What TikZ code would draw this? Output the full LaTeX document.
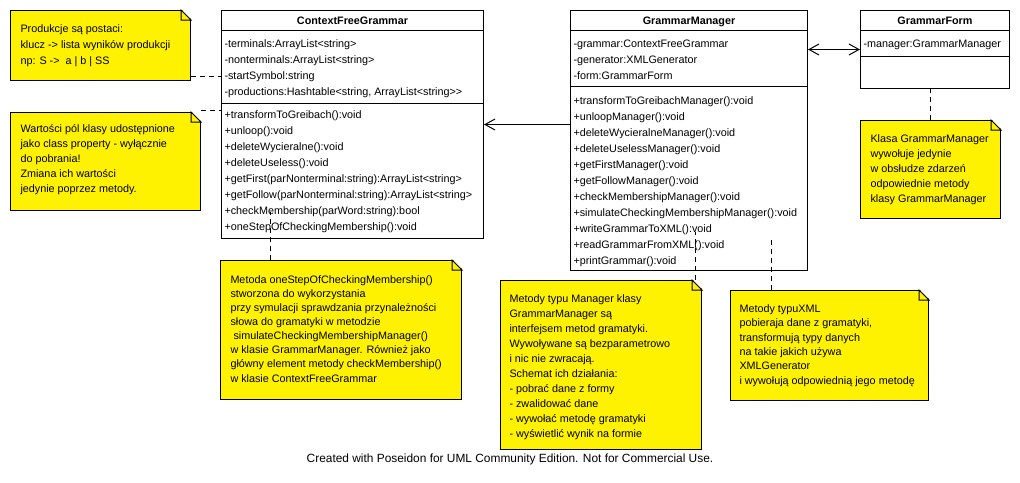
\documentclass[tikz,border=0pt]{standalone}
\usepackage{fontspec}
\setmainfont{Liberation Sans}
\usepackage{tikz}
\usetikzlibrary{arrows.meta}
\newcommand{\umlfont}{\fontsize{10.8}{16}\selectfont}
% folded corner of a note
\newcommand{\notecorner}[1]{%
	\fill[white] ([shift={(-10pt,1pt)}]#1.north east) -- ([shift={(1pt,1pt)}]#1.north east)
		-- ([shift={(1pt,-10pt)}]#1.north east) -- cycle;
	\draw ([xshift=-10pt]#1.north east) |- ([yshift=-10pt]#1.north east) -- cycle;
}
\tikzset{
	umlclass/.style = {rectangle, draw, fill=white, anchor=north west, inner sep=0pt},
	clstitle/.style = {font=\umlfont\bfseries, anchor=base, inner sep=0pt},
	member/.style = {font=\umlfont, align=left, anchor=north west, inner sep=0pt},
	umlnote/.style = {rectangle, draw, fill=yellow, anchor=north west, inner sep=0pt},
	notetext/.style = {align=left, anchor=north west, inner sep=0pt},
	notelink/.style = {dash pattern=on 5pt off 4pt},
	assoc/.style = {->}
}
\begin{document}
\begin{tikzpicture}[x=1pt, y=-1pt, line width=1pt,
	>={Straight Barb[length=10pt,width=11pt]}]
\fill[white] (0,0) rectangle (1020,482);
\useasboundingbox (0,0) rectangle (1020,482);

% classes
\node [umlclass, minimum width=262pt, minimum height=228pt] (cfg) at (221,10) {};
\node [clstitle] (cfg-title) at ([yshift=-14pt]cfg.north) {ContextFreeGrammar};
\draw ([yshift=-20pt]cfg.north west) -- ([yshift=-20pt]cfg.north east);
\draw ([yshift=-93pt]cfg.north west) -- ([yshift=-93pt]cfg.north east);
\node [member] (cfg-attr) at (224,39) {-terminals:ArrayList<string>\\
	-nonterminals:ArrayList<string>\\ -startSymbol:string\\
	-productions:Hashtable<string, ArrayList<string>{}>};
\node [member] (cfg-ops) at (224,110) {+transformToGreibach():void\\ +unloop():void\\
	+deleteWycieralne():void\\ +deleteUseless():void\\
	+getFirst(parNonterminal:string):ArrayList<string>\\
	+getFollow(parNonterminal:string):ArrayList<string>\\
	+checkMembership(parWord:string):bool\\ +oneStepOfCheckingMembership():void};

\node [umlclass, minimum width=237pt, minimum height=260pt] (gm) at (570,10) {};
\node [clstitle] (gm-title) at ([yshift=-14pt]gm.north) {GrammarManager};
\draw ([yshift=-20pt]gm.north west) -- ([yshift=-20pt]gm.north east);
\draw ([yshift=-76pt]gm.north west) -- ([yshift=-76pt]gm.north east);
\node [member] (gm-attr) at (573,39) {-grammar:ContextFreeGrammar\\
	-generator:XMLGenerator\\ -form:GrammarForm};
\node [member] (gm-ops) at (573,96) {+transformToGreibachManager():void\\
	+unloopManager():void\\ +deleteWycieralneManager():void\\
	+deleteUselessManager():void\\ +getFirstManager():void\\
	+getFollowManager():void\\ +checkMembershipManager():void\\
	+simulateCheckingMembershipManager():void\\ +writeGrammarToXML():void\\
	+readGrammarFromXML():void\\ +printGrammar():void};

\node [umlclass, minimum width=149pt, minimum height=78pt] (gf) at (860,10) {};
\node [clstitle] (gf-title) at ([yshift=-14pt]gf.north) {GrammarForm};
\draw ([yshift=-20pt]gf.north west) -- ([yshift=-20pt]gf.north east);
\draw ([yshift=-46pt]gf.north west) -- ([yshift=-46pt]gf.north east);
\node [member] (gf-attr) at (863,39) {-manager:GrammarManager};

% associations
\draw [assoc] ([yshift=16pt]gm.west) -- ([yshift=16pt]gm.west -| cfg.east);
\draw [assoc, <->] (gm.east |- gf.west) -- (gf.west);

% notes
\node [umlnote, minimum width=180pt, minimum height=70pt] (n1) at (10,10) {};
\notecorner{n1}
\node [notetext, font={\fontsize{10.8}{16}\selectfont}] (n1-text) at ([shift={(10pt,-14pt)}]n1.north west)
	{Produkcje są postaci:\\ klucz -> lista wyników produkcji\\ np: S ->\ \ a | b | SS};

\node [umlnote, minimum width=190pt, minimum height=98pt] (n2) at (10,112) {};
\notecorner{n2}
\node [notetext, font={\fontsize{10.8}{15}\selectfont}] (n2-text) at ([shift={(10pt,-12pt)}]n2.north west)
	{Wartości pól klasy udostępnione\\ jako class property - wyłącznie\\
	do pobrania!\\ Zmiana ich wartości\\ jedynie poprzez metody.};

\node [umlnote, minimum width=140pt, minimum height=98pt] (n3) at (860,120) {};
\notecorner{n3}
\node [notetext, font={\fontsize{10.8}{15}\selectfont}] (n3-text) at ([shift={(10pt,-14pt)}]n3.north west)
	{Klasa GrammarManager\\ wywołuje jedynie\\ w obsłudze zdarzeń\\
	odpowiednie metody\\ klasy GrammarManager};

\node [umlnote, minimum width=241pt, minimum height=139pt] (n4) at (220,260) {};
\notecorner{n4}
\node [notetext, font={\fontsize{10.8}{14.1}\selectfont}] (n4-text) at ([shift={(10pt,-15pt)}]n4.north west)
	{Metoda oneStepOfCheckingMembership()\\ stworzona do wykorzystania\\
	przy symulacji sprawdzania przynależności\\ słowa do gramatyki w metodzie\\
	\hspace*{3pt}simulateCheckingMembershipManager()\\
	w klasie GrammarManager. Również jako\\
	główny element metody checkMembership()\\ w klasie ContextFreeGrammar};

\node [umlnote, minimum width=201pt, minimum height=169pt] (n5) at (500,280) {};
\notecorner{n5}
\node [notetext, font={\fontsize{10.8}{15}\selectfont}] (n5-text) at ([shift={(9pt,-14pt)}]n5.north west)
	{Metody typu Manager klasy\\ GrammarManager są\\ interfejsem metod gramatyki.\\
	Wywoływane są bezparametrowo\\ i nic nie zwracają.\\ Schemat ich działania:\\
	- pobrać dane z formy\\ - zwalidować dane\\ - wywołać metodę gramatyki\\
	- wyświetlić wynik na formie};

\node [umlnote, minimum width=198pt, minimum height=110pt] (n6) at (730,290) {};
\notecorner{n6}
\node [notetext, font={\fontsize{10.8}{14.4}\selectfont}] (n6-text) at ([shift={(9pt,-14pt)}]n6.north west)
	{Metody typuXML\\ pobieraja dane z gramatyki,\\ transformują typy danych\\
	na takie jakich używa\\ XMLGenerator\\ i wywołują odpowiednią jego metodę};

% note links
\coordinate (cfg-dot) at (270,212);
\coordinate (gm-dot1) at (695.5,232);
\coordinate (gm-dot2) at (771,240);
\draw [notelink] ([yshift=5pt]n1.south east) -- ([yshift=5pt]n1.south east -| cfg.west);
\draw [notelink] ([yshift=2pt]n2.north east) -- ([yshift=2pt]n2.north east -| cfg.west);
\draw [notelink] (n3.north) -- (n3.north |- gf.south);
\draw [notelink] (n4.north west -| cfg-dot) -- (cfg-dot);
\draw [notelink] (n5.north west -| gm-dot1) -- (gm-dot1);
\draw [notelink] (n6.north west -| gm-dot2) -- (gm-dot2);

\node [font=\fontsize{11.9}{14}\selectfont, inner sep=0pt] (credit) at (510,459)
	{Created with Poseidon for UML Community Edition. Not for Commercial Use.};
\end{tikzpicture}
\end{document}
